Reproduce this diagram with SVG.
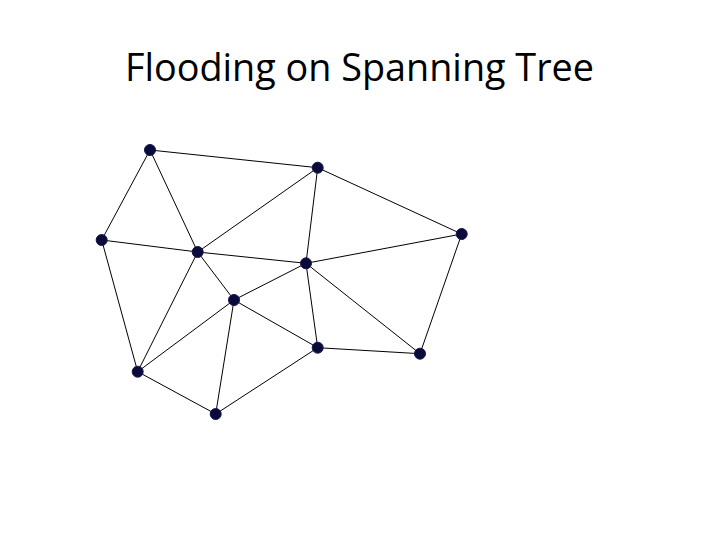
<svg xmlns="http://www.w3.org/2000/svg" width="720" height="540" viewBox="0 0 720 540">
<style>
.e line{stroke:#000;stroke-width:1}
.n circle{fill:#0b0b3b;stroke:#14144a;stroke-width:1}
.t{font-family:"Open Sans","Liberation Sans",sans-serif;font-size:38px;fill:#000}
</style>
<rect width="720" height="540" fill="#fff"/>
<text class="t" x="125" y="81" textLength="469" lengthAdjust="spacingAndGlyphs">Flooding on Spanning Tree</text>
<g id="edges" class="e">
<line x1="150" y1="150" x2="317.7" y2="167.7"/>
<line x1="150" y1="150" x2="101.7" y2="240"/>
<line x1="150" y1="150" x2="197.7" y2="252"/>
<line x1="317.7" y1="167.7" x2="197.7" y2="252"/>
<line x1="317.7" y1="167.7" x2="306" y2="263.3"/>
<line x1="317.7" y1="167.7" x2="461.7" y2="234"/>
<line x1="101.7" y1="240" x2="197.7" y2="252"/>
<line x1="101.7" y1="240" x2="137.7" y2="371.7"/>
<line x1="197.7" y1="252" x2="306" y2="263.3"/>
<line x1="197.7" y1="252" x2="234" y2="300"/>
<line x1="197.7" y1="252" x2="137.7" y2="371.7"/>
<line x1="306" y1="263.3" x2="461.7" y2="234"/>
<line x1="306" y1="263.3" x2="234" y2="300"/>
<line x1="306" y1="263.3" x2="317.7" y2="347.7"/>
<line x1="306" y1="263.3" x2="420" y2="353.7"/>
<line x1="461.7" y1="234" x2="420" y2="353.7"/>
<line x1="317.7" y1="347.7" x2="420" y2="353.7"/>
<line x1="234" y1="300" x2="317.7" y2="347.7"/>
<line x1="234" y1="300" x2="137.7" y2="371.7"/>
<line x1="234" y1="300" x2="215.7" y2="414"/>
<line x1="137.7" y1="371.7" x2="215.7" y2="414"/>
<line x1="317.7" y1="347.7" x2="215.7" y2="414"/>
</g>
<g id="nA" class="n"><circle cx="150" cy="150" r="5.5"/></g>
<g id="nB" class="n"><circle cx="317.7" cy="167.7" r="5.5"/></g>
<g id="nC" class="n"><circle cx="101.7" cy="240" r="5.5"/></g>
<g id="nD" class="n"><circle cx="197.7" cy="252" r="5.5"/></g>
<g id="nE" class="n"><circle cx="461.7" cy="234" r="5.5"/></g>
<g id="nF" class="n"><circle cx="306" cy="263.3" r="5.5"/></g>
<g id="nG" class="n"><circle cx="234" cy="300" r="5.5"/></g>
<g id="nH" class="n"><circle cx="317.7" cy="347.7" r="5.5"/></g>
<g id="nI" class="n"><circle cx="420" cy="353.7" r="5.5"/></g>
<g id="nJ" class="n"><circle cx="137.7" cy="371.7" r="5.5"/></g>
<g id="nK" class="n"><circle cx="215.7" cy="414" r="5.5"/></g>
</svg>
